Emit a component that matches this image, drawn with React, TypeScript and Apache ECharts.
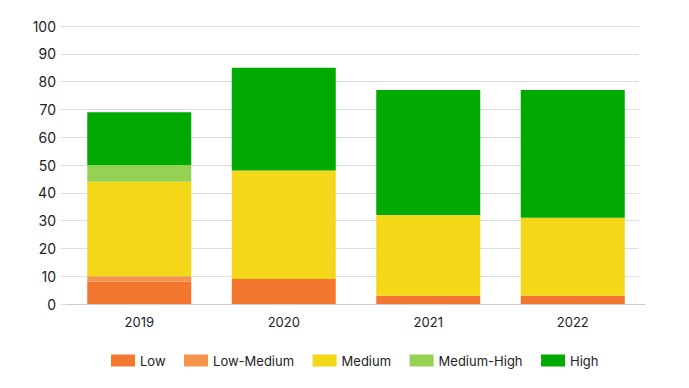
import React, { useEffect, useRef } from "react";
import * as echarts from "echarts";

const years = ["2019", "2020", "2021", "2022"];
const seriesNames = ["Low", "Low-Medium", "Medium", "Medium-High", "High"];
const low = [8, 9, 3, 3];
const lowMedium = [2, 0, 0, 0];
const medium = [34, 39, 29, 28];
const mediumHigh = [6, 0, 0, 0];
const high = [19, 37, 45, 46];
const colors = ["#f47730", "#f7944b", "#f3d718", "#95d153", "#00aa00"];

export default function App() {
  const ref = useRef<HTMLDivElement>(null);
  useEffect(() => {
    const chart = echarts.init(ref.current!, null, { renderer: "svg" });
    const values = [low, lowMedium, medium, mediumHigh, high];
    const font = "Inter, Roboto, sans-serif";
    chart.setOption({
      animation: false,
      textStyle: { fontFamily: font },
      legend: {
        bottom: 16,
        left: 106,
        itemWidth: 24,
        itemHeight: 12,
        itemGap: 18.5,
        textStyle: { fontSize: 13, color: "#222", fontFamily: font },
        data: seriesNames,
        icon: "rect",
      },
      grid: [
        { left: 61, right: 50, top: 26, bottom: 84 },
        { left: 67, right: 44, top: 26, bottom: 84 },
      ],
      xAxis: [
        { type: "category", gridIndex: 0, data: years, show: false },
        {
          type: "category",
          gridIndex: 1,
          data: years,
          axisTick: { show: false },
          axisLine: { lineStyle: { color: "#cccccc" } },
          axisLabel: { color: "#222", fontSize: 13, margin: 11, fontFamily: font },
        },
      ],
      yAxis: [
        {
          type: "value",
          gridIndex: 0,
          min: 0,
          max: 100,
          interval: 10,
          axisLabel: { color: "#222", fontSize: 14, margin: 5, fontFamily: font },
          splitLine: { lineStyle: { color: "#dddddd" } },
          axisLine: { show: false },
          axisTick: { show: false },
        },
        {
          type: "value",
          gridIndex: 1,
          min: 0,
          max: 100,
          interval: 10,
          show: false,
          splitLine: { show: false },
        },
      ],
      series: seriesNames.map((name, i) => ({
        name,
        type: "bar",
        stack: "total",
        xAxisIndex: 1,
        yAxisIndex: 1,
        barWidth: 104,
        data: values[i],
        itemStyle: { color: colors[i] },
      })),
    });
    return () => chart.dispose();
  }, []);
  return <div ref={ref} style={{ width: 689, height: 388, margin: -8 }} />;
}
